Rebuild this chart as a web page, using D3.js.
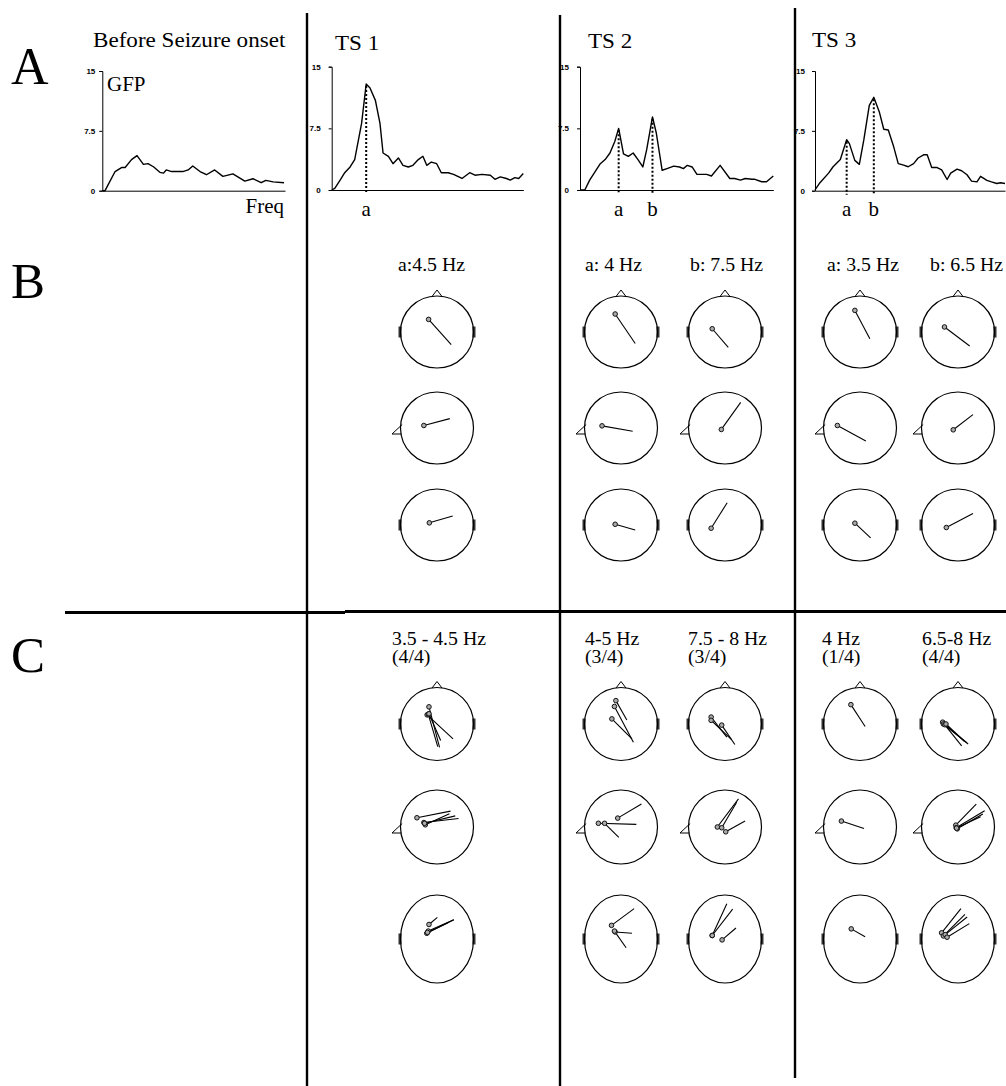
<!DOCTYPE html>
<html lang="en">
<head>
<meta charset="UTF-8">
<title>GFP spectra and dipole maps</title>
<script src="https://d3js.org/d3.v7.min.js"></script>
<style>
  body { margin: 0; background: #fff; }
  svg { display: block; background: #fff; }
  .serif { font-family: "Liberation Serif", "Times New Roman", serif; fill: #000; }
  .tick text { font-family: "Liberation Sans", Arial, sans-serif; font-size: 8px; font-weight: bold; }
  .domain, .tick line { stroke: #000; }
</style>
</head>
<body>
<svg width="1006" height="1086"></svg>
<script>
// GFP spectra: frequency (Hz) and GFP value
const freqBefore = [0, 0.3, 1.4, 2.1, 2.5, 3.2, 3.8, 4.5, 5.0, 5.6, 6.3, 6.7, 7.0, 7.6, 8.8, 9.4, 9.9, 10.7, 11.4, 12.3, 13.2, 14.3, 15.6, 16.5, 17.4, 17.9, 18.7, 19.9];
const gfpBefore  = [0, 0, 2.4, 2.9, 2.9, 3.9, 4.4, 3.3, 3.4, 3.0, 2.3, 2.2, 2.6, 2.4, 2.4, 2.6, 3.1, 2.4, 2.0, 2.6, 1.8, 2.1, 1.2, 1.5, 1.0, 1.3, 1.1, 1.0];

const freqTS1 = [0, 0.4, 1.1, 1.7, 2.4, 3.0, 3.9, 4.5, 5.0, 5.7, 6.3, 6.7, 7.4, 8.0, 8.7, 9.3, 10.0, 10.6, 11.3, 11.9, 12.4, 13.0, 13.7, 14.3, 15.2, 15.9, 17.0, 18.0, 18.7, 19.6, 20.7, 21.3, 22.0, 22.8, 23.3, 23.9, 24.4, 25];
const gfpTS1  = [0, 0.2, 1.2, 2.1, 2.8, 3.7, 8.1, 12.9, 12.4, 10.9, 8.1, 4.5, 4.1, 3.2, 3.9, 3.0, 2.8, 3.0, 3.7, 4.1, 3.0, 3.4, 3.2, 2.1, 2.1, 1.9, 1.4, 2.1, 1.8, 1.9, 1.8, 1.3, 1.6, 1.4, 1.2, 1.5, 1.4, 2.0];

const freqTS2 = [0, 0.5, 1.0, 2.1, 2.6, 3.1, 3.6, 4.0, 4.5, 5.0, 5.5, 6.0, 6.5, 6.9, 7.5, 7.9, 8.5, 9.0, 9.7, 10.3, 10.7, 11.1, 11.6, 12.1, 12.8, 13.1, 13.6, 14.5, 15.5, 16.0, 16.6, 17.1, 17.8, 18.1, 18.8, 19.3, 20];
const gfpTS2  = [0, 0, 1.2, 3.2, 3.7, 4.5, 5.9, 7.5, 4.4, 4.1, 4.5, 3.7, 2.8, 4.9, 8.9, 6.9, 2.4, 2.6, 2.9, 2.8, 2.6, 3.0, 2.8, 1.9, 1.9, 1.9, 1.7, 3.0, 1.4, 1.4, 1.2, 1.4, 1.3, 1.3, 1.0, 1.0, 1.7];

const freqTS3 = [0, 0.55, 1.5, 2.0, 2.8, 3.5, 3.8, 4.4, 4.9, 5.4, 6.0, 6.5, 7.1, 7.6, 8.1, 8.7, 9.2, 9.8, 10.3, 10.9, 11.4, 12.0, 12.4, 12.9, 13.5, 14.0, 14.6, 15.0, 15.7, 16.2, 16.8, 17.3, 17.9, 18.3, 19.0, 19.5, 20.1, 20.5, 21];
const gfpTS3  = [0.1, 1.0, 2.2, 3.0, 3.9, 6.4, 5.9, 3.8, 3.3, 6.4, 10.7, 11.7, 9.9, 7.7, 7.6, 5.5, 3.4, 3.2, 3.0, 3.4, 4.1, 4.5, 4.5, 2.9, 2.9, 2.6, 1.4, 2.2, 2.7, 2.5, 2.0, 1.2, 1.1, 1.8, 1.3, 1.1, 0.9, 1.0, 0.9];

const yTicks = [0, 7.5, 15];
const peaksTS1 = [4.5];
const peaksTS2 = [4, 7.5];
const peaksTS3 = [3.5, 6.5];
const peakNames = ["a", "b"];

const chartTitles = ["Before Seizure onset", "TS 1", "TS 2", "TS 3"];
const panelLetters = ["A", "B", "C"];

// Row B: single dipole per view (top, side, bottom); [x0, y0, x1, y1] in head units
const labelsB = ["a:4.5 Hz", "a: 4 Hz", "b: 7.5 Hz", "a: 3.5 Hz", "b: 6.5 Hz"];
const dipolesB = [
  [[[-0.23, -0.35, 0.39, 0.35]], [[-0.36, -0.07, 0.35, -0.26]], [[-0.21, -0.06, 0.43, -0.25]]],
  [[[-0.16, -0.50, 0.39, 0.32]], [[-0.52, -0.06, 0.32, 0.09]], [[-0.16, -0.02, 0.39, 0.14]]],
  [[[-0.35, -0.09, 0.09, 0.43]], [[-0.10, 0.04, 0.43, -0.71]], [[-0.38, 0.09, 0.06, -0.62]]],
  [[[-0.14, -0.60, 0.27, 0.19]], [[-0.62, -0.07, 0.16, 0.36]], [[-0.14, -0.05, 0.29, 0.36]]],
  [[[-0.37, -0.14, 0.32, 0.39]], [[-0.13, 0.05, 0.41, -0.37]], [[-0.32, 0.07, 0.41, -0.32]]]
];

// Row C: dipoles over patients
const labelsC = ["3.5 - 4.5 Hz", "4-5 Hz", "7.5 - 8 Hz", "4 Hz", "6.5-8 Hz"];
const countsC = ["(4/4)", "(3/4)", "(3/4)", "(1/4)", "(4/4)"];
const dipolesC = [
  [
    [[-0.22, -0.47, 0.07, 0.64], [-0.27, -0.25, 0.44, 0.41], [-0.24, -0.27, 0.02, 0.62], [-0.22, -0.28, 0.10, 0.45]],
    [[-0.55, -0.25, 0.37, -0.43], [-0.36, -0.12, 0.59, -0.23], [-0.32, -0.06, 0.34, -0.36], [-0.34, -0.10, 0.50, -0.30]],
    [[-0.22, -0.33, 0.01, -0.49], [-0.28, -0.13, 0.46, -0.44], [-0.24, -0.18, 0.46, -0.44], [-0.26, -0.15, 0.30, -0.37]]
  ],
  [
    [[-0.14, -0.64, 0.16, -0.11], [-0.18, -0.48, 0.34, 0.50], [-0.25, -0.14, 0.30, 0.41]],
    [[-0.09, -0.24, 0.56, -0.62], [-0.62, -0.10, 0.42, -0.07], [-0.45, -0.10, -0.06, 0.28]],
    [[-0.26, -0.31, 0.36, -0.69], [-0.16, -0.16, 0.30, -0.13], [-0.18, -0.18, 0.14, 0.20]]
  ],
  [
    [[-0.38, -0.19, 0.05, 0.36], [-0.38, -0.10, 0.18, 0.43], [-0.09, 0.03, 0.27, 0.56]],
    [[-0.21, 0.00, 0.37, -0.76], [-0.09, 0.02, 0.32, -0.67], [0.02, 0.13, 0.55, -0.16]],
    [[-0.35, -0.08, 0.05, -0.80], [-0.35, -0.08, 0.21, -0.68], [-0.08, 0.02, 0.30, -0.25]]
  ],
  [
    [[-0.25, -0.53, 0.14, 0.07]],
    [[-0.51, -0.16, 0.11, 0.04]],
    [[-0.24, -0.23, 0.14, -0.05]]
  ],
  [
    [[-0.42, -0.05, 0.10, 0.60], [-0.40, 0.00, 0.25, 0.52], [-0.36, 0.02, 0.28, 0.55], [-0.33, 0.00, 0.18, 0.48]],
    [[-0.06, -0.05, 0.50, -0.62], [-0.05, 0.02, 0.73, -0.44], [-0.02, 0.05, 0.68, -0.35], [-0.04, 0.03, 0.62, -0.28]],
    [[-0.45, -0.14, 0.08, -0.69], [-0.40, -0.07, 0.19, -0.56], [-0.35, -0.10, 0.25, -0.50], [-0.30, -0.04, 0.31, -0.35]]
  ]
];

const svg = d3.select("svg");

function label(str, x, y, size, anchor = "start", sx = 1.1) {
  svg.append("text")
    .attr("class", "serif")
    .attr("transform", `translate(${x},${y}) scale(${sx},1)`)
    .attr("text-anchor", anchor)
    .style("font-size", size + "px")
    .text(str);
}

// ---- panel A: GFP spectra ----
const charts = [
  { freq: freqBefore, gfp: gfpBefore, peaks: [], x0: 102.3, x1: 285, top: 71, base: 190.7, fmax: 20, pad: 4 },
  { freq: freqTS1, gfp: gfpTS1, peaks: peaksTS1, x0: 331.7, x1: 523.3, top: 66.7, base: 190, fmax: 25, pad: 8 },
  { freq: freqTS2, gfp: gfpTS2, peaks: peaksTS2, x0: 580, x1: 773.3, top: 66.7, base: 190, fmax: 20, pad: 8 },
  { freq: freqTS3, gfp: gfpTS3, peaks: peaksTS3, x0: 815, x1: 1005, top: 71, base: 190.7, fmax: 21, pad: 7 }
];

charts.forEach(c => {
  const x = d3.scaleLinear().domain([0, c.fmax]).range([c.x0, c.x1]);
  const y = d3.scaleLinear().domain([0, 15]).range([c.base, c.top]);

  svg.append("g")
    .attr("transform", `translate(${c.x0},0)`)
    .call(d3.axisLeft(y).tickValues(yTicks).tickSize(3).tickSizeOuter(3).tickPadding(c.pad).tickFormat(d => String(d)))
    .call(g => g.selectAll(".domain, .tick line").attr("stroke-width", 1));

  svg.append("g")
    .attr("transform", `translate(0,${c.base})`)
    .call(d3.axisBottom(x).tickValues([]).tickSizeOuter(0));

  svg.append("path")
    .datum(d3.zip(c.freq, c.gfp))
    .attr("fill", "none")
    .attr("stroke", "#000")
    .attr("stroke-width", 1.4)
    .attr("stroke-linejoin", "round")
    .attr("d", d3.line().x(d => x(d[0])).y(d => y(d[1])));

  c.peaks.forEach((p, i) => {
    const v = c.gfp[c.freq.indexOf(p)];
    svg.append("line")
      .attr("x1", x(p)).attr("x2", x(p))
      .attr("y1", y(v) + 2).attr("y2", c.base + 4)
      .attr("stroke", "#000").attr("stroke-width", 2)
      .attr("stroke-dasharray", "2,2");
    label(peakNames[i], x(p), 216, 20, "middle", 1.05);
  });
});

label(chartTitles[0], 93, 47, 21);
label(chartTitles[1], 335, 50, 21);
label(chartTitles[2], 588, 48, 21);
label(chartTitles[3], 812, 47, 21);
label("GFP", 107, 91, 20, "start", 1.05);
label("Freq", 284, 213, 20, "end", 1.05);

label(panelLetters[0], 11, 84, 52, "start", 1);
label(panelLetters[1], 11, 298, 51, "start", 1);
label(panelLetters[2], 11, 672, 51, "start", 1);

// ---- divider lines ----
[[307, 13, 1086], [560, 15, 1086], [795, 8, 1078]].forEach(([lx, ly0, ly1]) => {
  svg.append("line").attr("x1", lx).attr("x2", lx).attr("y1", ly0).attr("y2", ly1)
    .attr("stroke", "#000").attr("stroke-width", 2.4);
});
svg.append("line").attr("x1", 65).attr("x2", 345).attr("y1", 612.5).attr("y2", 612.5)
  .attr("stroke", "#000").attr("stroke-width", 3);
svg.append("line").attr("x1", 345).attr("x2", 1006).attr("y1", 611.5).attr("y2", 611.5)
  .attr("stroke", "#000").attr("stroke-width", 3);

// ---- head diagrams ----
const colX = [437, 621, 725, 860, 958];

function head(cx, cy, rx, ry, view, dips) {
  const g = svg.append("g");
  const hx = d3.scaleLinear().domain([-1, 1]).range([cx - rx, cx + rx]);
  const hy = d3.scaleLinear().domain([-1, 1]).range([cy - ry, cy + ry]);

  // ears on the top and bottom views
  if (view !== 1) {
    [cx - rx - 2, cx + rx - 1].forEach(ex => {
      g.append("rect").attr("x", ex).attr("y", cy - 5.5).attr("width", 3).attr("height", 11)
        .attr("fill", "#333");
    });
  }
  // nose
  if (view === 0) {
    g.append("path")
      .attr("d", `M${cx - 5},${cy - ry + 0.5}L${cx},${cy - ry - 6}L${cx + 5},${cy - ry + 0.5}`)
      .attr("fill", "#fff").attr("stroke", "#000").attr("stroke-width", 1);
  }
  if (view === 1) {
    g.append("path")
      .attr("d", `M${cx - rx + 1.7},${cy - 3.5}L${cx - rx - 8.5},${cy + 6}L${cx - rx + 1},${cy + 6}`)
      .attr("fill", "#fff").attr("stroke", "#000").attr("stroke-width", 1);
  }
  g.append("ellipse").attr("cx", cx).attr("cy", cy).attr("rx", rx).attr("ry", ry)
    .attr("fill", "none").attr("stroke", "#000").attr("stroke-width", 1.2);

  g.selectAll("line.dip").data(dips).join("line")
    .attr("class", "dip")
    .attr("x1", d => hx(d[0])).attr("y1", d => hy(d[1]))
    .attr("x2", d => hx(d[2])).attr("y2", d => hy(d[3]))
    .attr("stroke", "#000").attr("stroke-width", 1.1);
  g.selectAll("circle.org").data(dips).join("circle")
    .attr("class", "org")
    .attr("cx", d => hx(d[0])).attr("cy", d => hy(d[1]))
    .attr("r", 2.3)
    .attr("fill", "#aaa").attr("stroke", "#111").attr("stroke-width", 1);
}

const rowBY = [332, 428, 525];
const rowCY = [724, 827, 939];
const rowCRy = [36.5, 37, 44];

dipolesB.forEach((views, i) => {
  views.forEach((dips, v) => head(colX[i], rowBY[v], 36.5, 36, v, dips));
});
dipolesC.forEach((views, i) => {
  views.forEach((dips, v) => head(colX[i], rowCY[v], 36.5, rowCRy[v], v, dips));
});

const labelBX = [398, 585, 690, 827, 930];
labelsB.forEach((t, i) => label(t, labelBX[i], 271, 18));
const labelCX = [392, 585, 688, 822, 922];
labelsC.forEach((t, i) => label(t, labelCX[i], 645, 18));
countsC.forEach((t, i) => label(t, labelCX[i], 663, 18));
</script>
</body>
</html>
